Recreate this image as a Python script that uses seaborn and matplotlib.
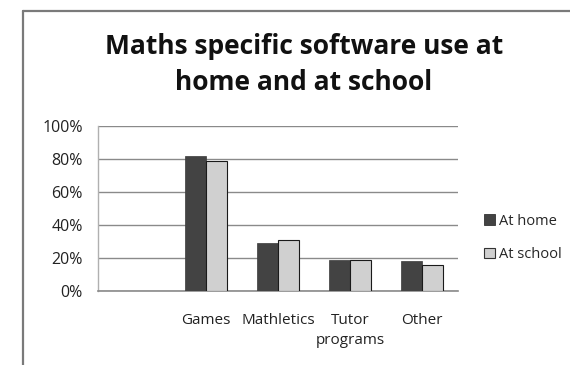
import numpy as np
import pandas as pd
import matplotlib
matplotlib.use("Agg")
import matplotlib.pyplot as plt
from matplotlib.lines import Line2D
from matplotlib.patches import Patch
import seaborn as sns

# Survey results: share of pupils using each kind of maths software
categories = ["Games", "Mathletics", "Tutor\nprograms", "Other"]
at_home = [82, 29, 19, 18]
at_school = [79, 31, 19, 16]
series = ["At home", "At school"]
colors = ["#434343", "#d0d0d0"]

df = pd.DataFrame({
    "category": categories * 2,
    "pct": at_home + at_school,
    "where": [series[0]] * len(categories) + [series[1]] * len(categories),
})

sns.set_theme(style="white")
plt.rcParams["font.family"] = ["Open Sans", "DejaVu Sans"]

fig = plt.figure(figsize=(5.7, 3.65), dpi=100)
ax = fig.add_axes([98 / 570, 1 - 291 / 365, (458 - 98) / 570, (291 - 126) / 365])

# a leading empty slot on the category axis
order = [""] + categories
sns.barplot(data=df, x="category", y="pct", hue="where", order=order,
            hue_order=series, palette=colors, width=0.57, gap=0,
            saturation=1, ax=ax, legend=False)

for patch in ax.patches:
    fc = patch.get_facecolor()
    if fc[0] > 0.5:
        patch.set_edgecolor("#1a1a1a")
        patch.set_linewidth(0.8)
    else:
        patch.set_edgecolor("#3a3a3a")
        patch.set_linewidth(0.5)
    patch.set_zorder(3)

ax.set_ylim(0, 100)
ax.set_xlim(-0.5, len(order) - 0.5)
ax.set_yticks(np.arange(0, 101, 20))
ax.set_yticklabels([f"{v}%" for v in range(0, 101, 20)])
ax.yaxis.grid(True, color="#8a8a8a", linewidth=1.0, zorder=0)
ax.set_axisbelow(True)
ax.set_xlabel("")
ax.set_ylabel("")
ax.tick_params(axis="y", labelsize=11.5, pad=11, length=0, labelcolor="#222222")
ax.tick_params(axis="x", labelsize=11, pad=16, length=0, labelcolor="#222222")
for lbl in ax.get_xticklabels():
    lbl.set_linespacing(1.4)
    lbl.set_verticalalignment("top")

for side in ["top", "right"]:
    ax.spines[side].set_visible(False)
ax.spines["left"].set_color("#b0b0b0")
ax.spines["left"].set_linewidth(1.0)
ax.spines["bottom"].set_color("#8a8a8a")
ax.spines["bottom"].set_linewidth(1.2)

title_x = 304 / 570
fig.text(title_x, 1 - 47 / 365, "Maths specific software use at",
         ha="center", va="center", fontsize=19, fontweight="bold", color="#111111")
fig.text(title_x, 1 - 83 / 365, "home and at school",
         ha="center", va="center", fontsize=19, fontweight="bold", color="#111111")

handles = [Patch(facecolor=colors[0], edgecolor="#333333", linewidth=0.6),
           Patch(facecolor=colors[1], edgecolor="#333333", linewidth=0.8)]
fig.legend(handles, series, loc="center left",
           bbox_to_anchor=(478 / 570, 1 - 238 / 365), frameon=False,
           fontsize=10.5, handlelength=0.75, handleheight=0.75,
           handletextpad=0.3, labelspacing=1.25, borderaxespad=0)

# outer chart frame (left and top edges)
fig.add_artist(Line2D([22.5 / 570, 22.5 / 570], [-0.02, 1 - 10.5 / 365],
                      transform=fig.transFigure, color="#7a7a7a", linewidth=1.6))
fig.add_artist(Line2D([22.5 / 570, 1.02], [1 - 10.5 / 365, 1 - 10.5 / 365],
                      transform=fig.transFigure, color="#7a7a7a", linewidth=1.6))

fig.savefig("out.png", dpi=100)
